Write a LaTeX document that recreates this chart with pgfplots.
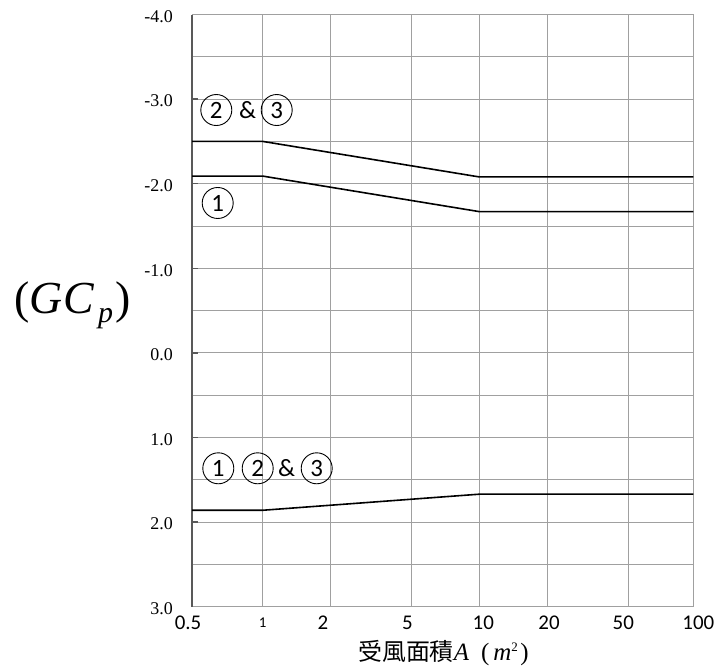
\documentclass[border=0pt]{standalone}
\usepackage{fontspec}
\usepackage{pgfplots}
\pgfplotsset{compat=1.18}
\setmainfont{Liberation Serif}
\newfontfamily\calfont{Carlito}
\newfontfamily\cjk{Noto Sans CJK TC}
\definecolor{gridc}{RGB}{160,160,160}
\definecolor{axc}{RGB}{89,89,89}
\newcommand\sh[2]{\makebox[0pt]{\hspace*{#1}#2\hspace*{-#1}}}
\begin{document}
\begin{tikzpicture}
\useasboundingbox (0,0) rectangle (715bp,671bp);
\begin{axis}[
  at={(192bp,64.3bp)}, anchor=south west,
  width=501.3bp, height=592.2bp, scale only axis,
  xmin=0, xmax=501.3, ymin=-4, ymax=3, y dir=reverse,
  xtick={0,70.7,138,219.3,287.3,355,436.3,501.3},
  xticklabels={\sh{-4bp}{0.5},{\fontsize{15}{16}\selectfont 1},\sh{-7bp}{2},\sh{-4bp}{5},\sh{4bp}{10},\sh{2bp}{20},\sh{-5bp}{50},\sh{5bp}{100}},
  ytick={-4,-3,-2,-1,0,1,2,3},
  yticklabels={-4.0,-3.0,-2.0,-1.0,0.0,1.0,2.0,3.0},
  minor ytick={-3.5,-2.5,-1.5,-0.5,0.5,1.5,2.5},
  grid=both,
  major grid style={gridc, line width=0.9bp},
  minor grid style={gridc, line width=0.9bp},
  tick align=inside, ytick pos=left,
  xtick style={draw=none},
  ytick style={axc, line width=1.4bp},
  major tick length=6bp, minor tick length=0pt,
  axis line style={gridc, line width=0.9bp},
  xticklabel style={anchor=center, yshift=-16bp, font=\calfont\fontsize{21}{22}\selectfont},
  yticklabel style={anchor=east, inner sep=0pt, xshift=-19bp, yshift=-2bp, font=\fontsize{18}{20}\selectfont},
  clip=false,
]
\draw[axc, line width=1.8bp] (rel axis cs:0,0) -- (rel axis cs:0,1);
\addplot[black, line width=1.6bp] coordinates {(0,-2.5) (70.7,-2.5) (287.3,-2.08) (501.3,-2.08)};
\addplot[black, line width=1.6bp] coordinates {(0,-2.09) (70.7,-2.09) (287.3,-1.67) (501.3,-1.67)};
\addplot[black, line width=1.6bp] coordinates {(0,1.86) (70.7,1.86) (287.3,1.67) (501.3,1.67)};
\tikzset{cn/.style={draw, circle, minimum size=31bp, inner sep=0pt, line width=0.9bp, font=\calfont\fontsize{25}{26}\selectfont},
         am/.style={inner sep=0pt, font=\calfont\fontsize{25}{26}\selectfont}}
\node[cn] at (axis cs:24.3,-2.871) {2};
\node[am] at (axis cs:55.7,-2.871) {\&};
\node[cn] at (axis cs:84.7,-2.871) {3};
\node[cn] at (axis cs:25.7,-1.772) {1};
\node[cn] at (axis cs:26.3,1.364) {1};
\node[cn] at (axis cs:65.7,1.364) {2};
\node[am] at (axis cs:94.7,1.364) {\&};
\node[cn] at (axis cs:124.7,1.364) {3};
\end{axis}
\node[anchor=base, inner sep=0pt, font=\fontsize{46}{50}\selectfont] at (72.5bp,357.7bp)
  {(\textit{GC}\hspace{4bp}\raisebox{-9bp}{\fontsize{30}{30}\selectfont\textit{p}}\hspace{2bp})};
\node[anchor=base west, inner sep=0pt] at (358bp,11bp)
  {{\cjk\fontsize{24}{26}\selectfont 受風面積}{\fontsize{25}{27}\selectfont\textit{A}\hspace{12bp}(\hspace{4bp}\textit{m}\textsuperscript{\fontsize{13}{14}\selectfont 2}\hspace{2bp})}};
\end{tikzpicture}
\end{document}
